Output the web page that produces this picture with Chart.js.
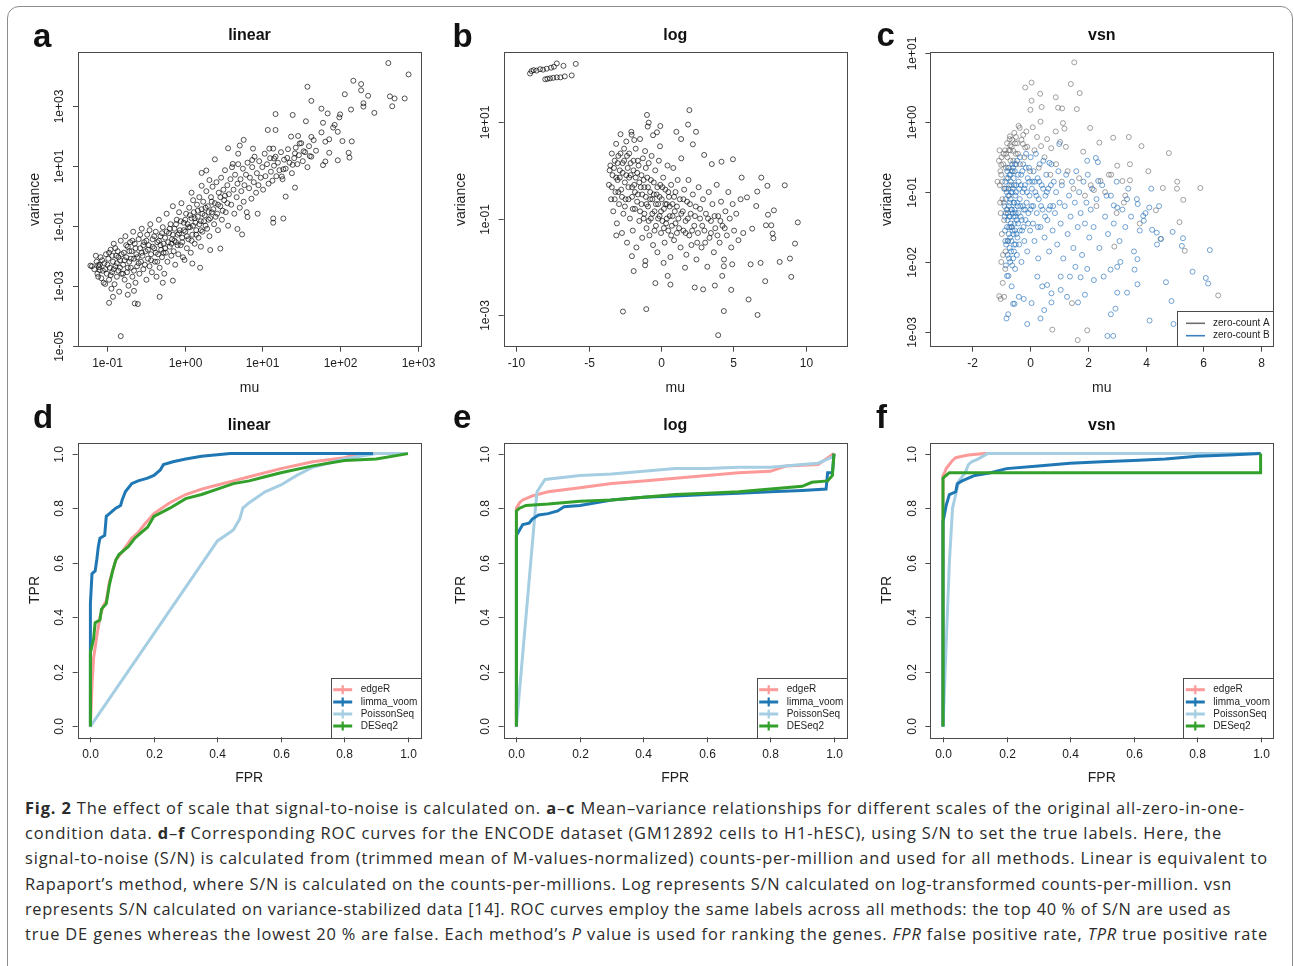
<!DOCTYPE html>
<html lang="en">
<head>
    <meta charset="UTF-8">
    <title>Fig. 2 – signal-to-noise scale</title>
    <script src="https://cdn.jsdelivr.net/npm/chart.js"></script>
    <style>
        body {
            margin: 0;
            background: #fff;
            overflow: hidden;
        }

        #figure {
            position: relative;
            width: 1294px;
            height: 966px;
        }

        .frame {
            position: absolute;
            left: 7px;
            top: 6px;
            width: 1284px;
            height: 980px;
            border: 1.3px solid #8c8c8c;
            border-radius: 12px;
        }

        .panel {
            position: absolute;
        }

        .caption {
            position: absolute;
            left: 25px;
            top: 795px;
            font-family: 'Open Sans', 'Noto Sans', sans-serif;
            font-size: 16.4px;
            line-height: 25.2px;
            color: #2b2b2b;
        }

        .cap-line {
            white-space: nowrap;
        }
    </style>
</head>
<body>
<div id="figure">
    <div class="frame"></div>

    <div class="panel" style="left:0;top:0;width:445px;height:395px"><canvas id="chartA"></canvas></div>
    <div class="panel" style="left:430px;top:0;width:430px;height:395px"><canvas id="chartB"></canvas></div>
    <div class="panel" style="left:860px;top:0;width:434px;height:395px"><canvas id="chartC"></canvas></div>
    <div class="panel" style="left:0;top:395px;width:430px;height:395px"><canvas id="chartD"></canvas></div>
    <div class="panel" style="left:430px;top:395px;width:430px;height:395px"><canvas id="chartE"></canvas></div>
    <div class="panel" style="left:860px;top:395px;width:434px;height:395px"><canvas id="chartF"></canvas></div>

    <div class="caption">
        <div class="cap-line" data-w="1220"><span><b>Fig. 2</b> The effect of scale that signal-to-noise is calculated on. <b>a</b>–<b>c</b> Mean–variance relationships for different scales of the original all-zero-in-one-</span></div>
        <div class="cap-line" data-w="1197"><span>condition data. <b>d</b>–<b>f</b> Corresponding ROC curves for the ENCODE dataset (GM12892 cells to H1-hESC), using S/N to set the true labels. Here, the</span></div>
        <div class="cap-line" data-w="1243"><span>signal-to-noise (S/N) is calculated from (trimmed mean of M-values-normalized) counts-per-million and used for all methods. Linear is equivalent to</span></div>
        <div class="cap-line" data-w="1207"><span>Rapaport’s method, where S/N is calculated on the counts-per-millions. Log represents S/N calculated on log-transformed counts-per-million. vsn</span></div>
        <div class="cap-line" data-w="1206"><span>represents S/N calculated on variance-stabilized data [14]. ROC curves employ the same labels across all methods: the top 40 % of S/N are used as</span></div>
        <div class="cap-line" data-w="1243"><span>true DE genes whereas the lowest 20 % are false. Each method’s <i>P</i> value is used for ranking the genes. <i>FPR</i> false positive rate, <i>TPR</i> true positive rate</span></div>
    </div>
</div>

<script>
    // ---- data: panel a (linear), [log10 mu, log10 variance] ----
    const linearMuVar = [
        [2.62,4.42],[2.88,4.04],[2.17,3.83],[2.27,3.72],[1.58,3.63],[2.06,3.38],[2.27,3.51],[2.36,3.33],[2.64,3.31],[2.70,3.24],
        [2.83,3.24],[2.67,2.98],[1.63,3.16],[2.30,3.08],[2.30,2.97],[2.44,2.76],[1.76,2.90],[1.84,2.74],[2.14,2.87],[2.00,2.71],
        [1.99,2.61],[1.17,2.72],[1.39,2.69],[1.56,2.48],[1.78,2.43],[1.07,2.19],[1.17,2.19],[1.91,2.27],[1.93,2.36],[1.97,2.13],
        [1.76,2.11],[1.63,1.96],[1.86,1.88],[2.03,1.82],[2.15,1.81],[1.81,1.80],[1.46,1.99],[1.48,1.74],[1.37,1.97],[1.86,1.43],
        [2.11,1.43],[2.12,1.27],[1.81,1.14],[1.78,1.02],[1.97,1.18],[1.53,1.48],[1.61,1.32],[1.42,1.41],[1.32,1.26],[1.39,1.03],
        [1.42,0.27],[1.27,0.88],[1.25,0.64],[1.30,-0.03],[1.27,-0.76],[1.14,-0.76],[1.14,-0.90],[0.94,-0.60],[0.81,-0.71],[0.74,-1.29],
        [0.46,-1.76],[0.33,-1.81],[0.20,-2.40],[0.10,-2.26],[0.00,-2.14],[0.21,-1.70],[0.68,-1.11],[1.14,1.57],[1.15,1.24],[1.09,1.57],
        [0.88,1.57],[0.76,1.86],[0.71,1.67],[0.56,1.58],[0.69,1.40],[0.39,1.21],[0.62,1.06],[0.87,1.19],[0.22,0.76],[0.28,0.84],
        [0.32,0.52],[0.09,0.10],[0.22,0.33],[-0.32,-3.37],[-0.15,-2.83],[-0.28,-2.90],[-0.64,-3.59],[-0.60,-3.61],[-0.73,-3.30],[-0.65,-3.17],
        [-0.97,-3.57],[-0.92,-3.37],[-0.82,-4.68],[-1.21,-2.33],[-1.11,-2.31],[-1.02,-2.94],[-1.09,-2.48],
        [-1.19,-2.35],[-1.16,-2.45],[-1.13,-2.2],[-1.12,-2.6],[-1.1,-2.38],[-1.08,-2.05],[-1.07,-2.75],[-1.05,-2.5],[-1.04,-2.9],[-1.03,-2.25],
        [-1.01,-1.95],[-1.0,-2.6],[-0.98,-2.1],[-0.97,-2.8],[-0.96,-2.4],[-0.95,-1.8],[-0.94,-3.1],[-0.93,-2.55],[-0.92,-2.2],[-0.91,-1.6],
        [-0.9,-2.95],[-0.89,-2.35],[-0.88,-2.0],[-0.87,-2.7],[-0.86,-1.85],[-0.85,-2.5],[-0.84,-3.2],[-0.83,-2.15],[-0.82,-1.5],[-0.81,-2.6],
        [-0.79,-2.3],[-0.78,-1.9],[-0.77,-2.8],[-0.76,-1.35],[-0.75,-2.05],[-0.74,-2.55],[-0.73,-1.7],[-0.72,-3.0],[-0.71,-2.2],[-0.7,-1.55],
        [-0.69,-2.4],[-0.68,-1.85],[-0.67,-2.7],[-0.66,-1.2],[-0.65,-2.1],[-0.64,-1.6],[-0.63,-2.9],[-0.62,-1.95],[-0.61,-2.35],[-0.59,-1.45],
        [-0.58,-2.6],[-0.57,-1.75],[-0.56,-2.2],[-0.55,-1.1],[-0.54,-2.0],[-0.53,-2.45],[-0.52,-1.55],[-0.5,-1.85],[-0.49,-2.8],[-0.48,-1.3],
        [-0.47,-2.1],[-0.46,-1.65],[-0.45,-2.35],[-0.44,-0.95],[-0.43,-1.95],[-0.42,-2.55],[-0.41,-1.45],[-0.39,-1.75],[-0.38,-2.2],[-0.37,-1.2],
        [-0.36,-2.7],[-0.35,-1.55],[-0.34,-1.95],[-0.33,-0.8],[-0.32,-2.4],[-0.31,-1.35],[-0.3,-1.8],[-0.29,-2.05],[-0.28,-1.05],[-0.27,-1.6],
        [-0.26,-2.6],[-0.25,-1.4],[-0.24,-1.9],[-0.23,-0.6],[-0.22,-2.2],[-0.2,-1.25],[-0.19,-1.7],[-0.18,-0.95],[-0.17,-2.0],[-0.16,-1.45],
        [-0.15,-0.35],[-0.14,-1.85],[-0.13,-1.1],[-0.12,-2.3],[-0.11,-1.55],[-0.1,-0.8],[-0.09,-1.3],[-0.08,-1.95],[-0.07,-0.55],[-0.06,-1.15],
        [-0.05,-1.65],[-0.04,-0.25],[-0.03,-1.4],[-0.02,-2.05],[-0.01,-0.9],[0.01,-1.2],[0.02,-0.6],[0.03,-1.75],[0.04,-0.95],[0.05,-1.45],
        [0.06,-0.4],[0.07,-1.05],[0.08,-1.9],[0.09,-0.75],[0.1,-1.3],[0.11,-0.15],[0.12,-0.55],[0.13,-1.6],[0.14,-0.9],[0.15,-1.15],
        [0.16,-0.3],[0.17,-0.7],[0.18,-1.4],[0.19,-0.05],[0.21,-0.85],[0.22,-0.45],[0.23,-1.2],[0.24,-0.2],[0.26,-0.65],[0.27,-1.0],
        [0.28,0.15],[0.3,-0.35],[0.31,-0.8],[0.32,-1.35],[0.34,-0.05],[0.35,-0.55],[0.36,0.3],[0.38,-0.95],[0.39,-0.25],[0.41,0.45],
        [0.42,-0.6],[0.43,-1.15],[0.44,0.1],[0.46,-0.35],[0.47,0.6],[0.48,-0.8],[0.5,0.2],[0.51,-0.15],[0.52,0.85],[0.53,-0.55],
        [0.55,0.35],[0.56,-1.0],[0.57,0.05],[0.59,0.55],[0.6,-0.3],[0.61,0.95],[0.63,0.2],[0.64,-0.6],[0.65,0.7],[0.67,-0.05],
        [0.68,0.4],[0.69,1.05],[0.71,-0.4],[0.72,0.55],[0.73,0.15],[0.75,0.9],[0.76,-0.2],[0.77,0.35],[0.79,0.7],[0.8,-0.55],
        [0.81,1.1],[0.83,0.25],[0.84,0.6],[0.86,-0.1],[0.87,0.95],[0.89,0.45],[0.9,1.3],[0.92,0.1],[0.93,0.75],[0.95,0.35],
        [0.96,1.15],[0.98,0.6],[1.0,0.95],[1.01,0.2],[1.03,1.4],[1.04,0.65],[1.06,1.05],[1.08,0.4],[1.1,1.25],[1.11,0.8],
        [1.13,0.5],[1.15,1.0],[1.17,1.3],[1.18,0.65],[1.2,1.1],[1.22,0.85],[1.24,1.45],[1.26,0.55],[1.28,1.2],[1.3,0.9],
        [1.33,1.55],[1.35,1.1],[1.38,0.75],[1.41,1.25],[1.43,1.6],[1.45,1.05],[1.47,1.35],[1.5,1.75],[1.52,1.15],[1.55,1.45],
        [1.58,0.95],[1.6,1.65],[1.63,1.3],[1.66,1.85],[1.69,1.5],
        [-1.14,-2.0],[-1.11,-2.7],[-1.09,-2.3],[-1.06,-2.15],[-1.02,-2.45],[-0.99,-2.3],[-0.97,-1.9],[-0.95,-2.65],[-0.93,-2.0],[-0.91,-2.45],
        [-0.89,-1.75],[-0.87,-2.25],[-0.85,-2.05],[-0.83,-2.4],[-0.81,-1.95],[-0.79,-2.6],[-0.77,-2.15],[-0.75,-1.65],[-0.73,-2.4],[-0.71,-1.85],
        [-0.69,-2.1],[-0.67,-1.5],[-0.65,-2.5],[-0.63,-1.75],[-0.61,-2.05],[-0.59,-2.25],[-0.57,-1.3],[-0.55,-1.9],[-0.53,-1.65],[-0.51,-2.3],
        [-0.49,-1.5],[-0.47,-1.8],[-0.45,-1.15],[-0.43,-2.15],[-0.41,-1.7],[-0.39,-1.35],[-0.37,-1.9],[-0.35,-2.2],[-0.33,-1.5],[-0.31,-1.65],
        [-0.29,-1.25],[-0.27,-1.9],[-0.25,-1.75],[-0.23,-1.2],[-0.21,-1.55],[-0.19,-1.1],[-0.17,-1.6],[-0.15,-1.3],[-0.13,-1.5],[-0.11,-0.95],
        [-0.09,-1.65],[-0.07,-1.25],[-0.05,-0.85],[-0.03,-1.55],[-0.01,-1.15],[0.01,-0.8],[0.03,-1.35],[0.05,-1.05],[0.07,-0.65],[0.09,-1.5],
        [0.11,-1.0],[0.13,-0.75],[0.15,-1.3],[0.17,-0.5],[0.19,-0.95],[0.21,-1.15],[0.23,-0.6],[0.25,-0.85],[0.27,-0.4],[0.29,-1.1],
        [0.31,-0.55],[0.33,-0.75],[0.35,-0.2],[0.37,-0.45],[0.4,-0.7],[0.43,-0.3],[0.46,-0.05],[0.49,-0.5],[0.52,0.0],[0.55,-0.25]
    ];

    // ---- panel b (log), [mu, log10 variance] ----
    const logMuVar = [
        [-9.05,2.01],[-8.95,2.06],[-8.8,2.08],[-8.6,2.07],[-8.36,2.10],[-8.15,2.09],[-7.9,2.11],[-7.6,2.13],[-7.4,2.15],[-7.2,2.22],
        [-6.74,2.17],[-5.89,2.21],[-8.0,1.89],[-7.85,1.90],[-7.67,1.91],[-7.45,1.92],[-7.2,1.93],[-6.95,1.93],[-6.65,1.95],[-6.17,1.97],
        [-0.97,1.15],[-0.85,0.99],[-0.92,0.91],[-0.05,0.92],[-0.55,0.73],[-0.28,0.79],[1.96,1.25],[1.87,0.95],[2.42,0.80],[2.2,0.54],
        [1.06,0.80],[1.39,0.65],[-2.03,0.74],[-1.85,0.63],[-0.07,0.50],[2.98,0.32],[3.51,0.13],[4.18,0.18],[4.97,0.23],[5.57,-0.15],
        [6.93,-0.15],[8.55,-0.31],[7.35,-0.32],[6.65,-0.44],[5.94,-0.56],[6.58,-0.74],[7.8,-0.83],[7.39,-0.92],[9.45,-1.08],[9.26,-1.52],
        [8.91,-1.83],[9.0,-2.21],[8.2,-1.90],[7.2,-2.30],[6.88,-1.92],[6.19,-1.95],[6.05,-2.68],[6.67,-3.0],[4.34,-2.92],[3.95,-3.42],
        [4.85,-2.48],[2.91,-2.47],[2.33,-2.43],[3.72,-2.39],[4.23,-2.19],[4.92,-1.95],[4.34,-1.99],[-1.02,-2.88],[-2.63,-2.93],[-0.39,-2.34],
        [0.65,-2.37],[0.46,-2.19],[-3.09,-1.35],[-2.01,-1.78],[-1.89,-2.09],[-1.1,-1.97],[-1.08,-1.88],[0.18,-1.92],[1.66,-2.02],[7.62,-1.14],
        [7.71,-1.31],[7.76,-1.41],[7.25,-1.14],[6.3,-1.21],[5.68,-1.30],
        [-3.6,-0.3],[-3.5,0.1],[-3.45,-0.6],[-3.4,0.35],[-3.35,-0.1],[-3.3,-0.85],[-3.2,0.2],[-3.15,-0.45],[-3.1,0.55],[-3.05,-1.1],
        [-3.0,-0.2],[-2.95,0.3],[-2.9,-0.7],[-2.85,0.0],[-2.8,0.75],[-2.75,-0.4],[-2.7,-1.3],[-2.65,0.15],[-2.6,-0.9],[-2.55,0.45],
        [-2.5,-0.25],[-2.45,-0.6],[-2.4,0.6],[-2.35,-1.5],[-2.3,0.05],[-2.25,-0.35],[-2.2,0.35],[-2.15,-1.0],[-2.1,-0.1],[-2.05,0.8],
        [-2.0,-0.55],[-1.95,-1.25],[-1.9,0.2],[-1.85,-0.3],[-1.8,-0.8],[-1.75,0.45],[-1.7,-1.6],[-1.65,-0.05],[-1.6,-0.5],[-1.55,0.1],
        [-1.5,-1.05],[-1.45,0.65],[-1.4,-0.35],[-1.35,-0.7],[-1.3,-1.4],[-1.25,0.25],[-1.2,-0.2],[-1.15,-0.9],[-1.1,0.4],[-1.05,-0.55],
        [-1.0,-1.2],[-0.95,-0.15],[-0.9,-0.75],[-0.85,0.15],[-0.8,-1.35],[-0.75,-0.45],[-0.7,-1.0],[-0.65,0.3],[-0.6,-0.6],[-0.55,-1.55],
        [-0.5,-0.25],[-0.45,-0.85],[-0.4,0.0],[-0.35,-1.15],[-0.3,-0.5],[-0.25,-1.7],[-0.2,-0.7],[-0.15,0.2],[-0.1,-0.95],[-0.05,-0.3],
        [0.0,-1.3],[0.05,-0.6],[0.1,-1.05],[0.15,-0.15],[0.2,-0.8],[0.25,-1.5],[0.3,-0.4],[0.35,-1.1],[0.4,-0.7],[0.45,0.1],
        [0.5,-1.25],[0.55,-0.55],[0.6,-0.95],[0.65,-1.8],[0.7,-0.3],[0.75,-1.15],[0.8,-0.7],[0.85,0.05],[0.9,-1.45],[0.95,-0.85],
        [1.0,-0.45],[1.1,-1.3],[1.15,-0.2],[1.2,-1.0],[1.3,-0.6],[1.35,-1.6],[1.4,0.25],[1.5,-0.85],[1.55,-1.25],[1.6,-0.4],
        [1.7,-1.05],[1.75,-1.75],[1.8,-0.65],[1.9,-0.2],[1.95,-1.35],[2.05,-0.9],[2.1,-1.55],[2.2,-0.5],[2.3,-1.15],[2.4,-0.75],
        [2.45,-1.85],[2.55,-1.3],[2.6,-0.35],[2.7,-1.0],[2.8,-1.6],[2.9,-0.6],[3.0,-1.25],[3.1,-0.9],[3.2,-2.0],[3.3,-0.45],
        [3.35,-1.4],[3.45,-1.05],[3.55,-0.7],[3.65,-1.7],[3.75,-1.2],[3.85,-0.3],[3.95,-0.95],[4.05,-1.5],[4.15,-0.65],[4.25,-1.15],
        [4.35,-1.85],[4.45,-0.85],[4.55,-1.35],[4.65,-0.45],[4.75,-1.0],[4.85,-1.6],[4.95,-0.7],[5.05,-1.25],[5.2,-0.9],[5.35,-1.45],
        [5.5,-0.6],
        [-3.55,0.0],[-3.4,-0.35],[-3.25,0.05],[-3.2,-0.6],[-3.1,-0.15],[-3.0,0.15],[-2.95,-0.45],[-2.85,-0.15],[-2.8,0.35],[-2.7,-0.55],
        [-2.65,-0.05],[-2.55,0.2],[-2.5,-0.75],[-2.4,-0.1],[-2.35,0.3],[-2.25,-0.6],[-2.2,-0.15],[-2.1,0.15],[-2.0,-0.35],[-1.95,-0.8],
        [-1.9,0.0],[-1.8,-0.45],[-1.75,-0.15],[-1.65,-0.65],[-1.6,0.2],[-1.5,-0.25],[-1.45,-0.85],[-1.35,-0.1],[-1.3,-0.5],[-1.2,-1.0],
        [-1.15,-0.35],[-1.05,0.05],[-1.0,-0.7],[-0.9,-0.35],[-0.85,-1.05],[-0.75,-0.6],[-0.7,-0.2],[-0.6,-0.9],[-0.5,-0.5],[-0.45,-1.25],
        [-0.35,-0.7],[-0.25,-0.35],[-0.2,-1.0],[-0.1,-0.55],[0.0,-0.85],[0.1,-0.35],[0.2,-1.2],[0.3,-0.7],[0.4,-1.0],[0.5,-0.45],
        [0.6,-0.75],[0.7,-1.35],[0.8,-0.95],[0.9,-0.55],[1.0,-1.1],[1.1,-0.75],[1.25,-1.2],[1.4,-0.9],[1.55,-0.6],[1.7,-1.3],
        [1.85,-1.0],[2.0,-0.7],[2.15,-1.25],[2.35,-0.95],[2.5,-1.5],[2.7,-0.8],[2.85,-1.15],[3.05,-1.5],[3.25,-1.0],[3.45,-1.3],
        [3.7,-0.95],[3.9,-1.35],[4.1,-1.05],[4.4,-1.2]
    ];

    // ---- panel c (vsn), [mu, log10 variance], split by zero-count group ----
    const vsnZeroA = [
        [1.53,0.86],[1.41,0.55],[1.72,0.42],[-0.17,0.50],[0.05,0.57],[0.35,0.41],[0.89,0.36],[0.05,0.31],[0.01,0.18],[0.40,0.22],
        [0.97,0.21],[1.11,0.20],[1.62,0.19],[0.36,0.01],[0.09,-0.07],[1.14,-0.01],[1.19,-0.09],[2.08,-0.08],[-0.36,-0.08],[-0.13,-0.13],
        [-0.24,-0.18],[-0.49,-0.21],[-0.71,-0.24],[0.24,-0.21],[0.59,-0.24],[0.89,-0.13],[1.04,-0.28],[1.24,-0.35],[2.40,-0.29],[2.88,-0.22],
        [3.42,-0.21],[3.86,-0.34],[4.81,-0.44],[1.84,-0.42],[0.38,-0.34],[0.73,-0.37],[-0.25,-0.31],[-0.17,-0.36],[-0.69,-0.33],[-0.58,-0.41],
        [-0.83,-0.45],[-1.0,-0.61],[-1.03,-0.70],[-1.13,-0.85],[3.02,-0.62],[3.46,-0.60],[4.10,-0.70],[3.20,-0.84],[3.46,-0.83],[2.81,-0.75],
        [5.10,-0.85],[5.09,-0.95],[4.60,-0.94],[5.90,-0.94],[5.31,-1.11],[4.36,-1.26],[5.18,-1.43],[5.36,-1.84],[6.52,-2.48],[-1.07,-2.49],
        [-1.02,-2.53],[0.77,-2.97],[1.98,-2.98],[1.65,-3.12],[1.45,-2.59],[4.52,-1.67],[2.92,-1.78],[3.25,-1.15],[2.44,-0.84],[2.21,-0.97],
        [2.73,-0.75],
        [-1.08,-0.55],[-1.05,-0.9],[-1.02,-1.3],[-1.0,-0.75],[-0.98,-1.6],[-0.96,-1.1],[-0.94,-1.9],[-0.92,-0.45],[-0.9,-1.4],[-0.88,-0.95],
        [-0.86,-2.1],[-0.84,-0.65],[-0.82,-1.25],[-0.8,-0.3],[-0.78,-1.7],[-0.76,-0.8],[-0.74,-0.4],[-0.72,-1.05],[-0.7,-0.2],[-0.68,-0.55],
        [-0.66,-1.5],[-0.64,-0.35],[-0.6,-0.7],[-0.55,-0.15],[-0.5,-0.45],[-0.45,-0.3],[-0.4,-0.05],[-0.35,-0.6],[-0.3,-0.25],[-0.2,-0.5],
        [-0.1,-0.35],[0.0,-0.7],[0.15,-0.4],[0.3,-0.65],[0.5,-0.5],[0.7,-0.75],[0.9,-0.6],[1.1,-0.85],[1.3,-0.7],[1.5,-0.95],
        [1.7,-0.8],[1.9,-1.05],[2.1,-0.9],[2.3,-1.2],[2.6,-1.0],[3.0,-1.3],[3.3,-1.05],[3.8,-1.45],[-0.95,-2.3],[-1.0,-2.0],
        [-0.85,-1.85],[-0.9,-2.5],
        [-1.06,-0.4],[-1.04,-1.15],[-0.99,-0.5],[-0.97,-0.85],[-0.93,-0.6],[-0.91,-1.15],[-0.87,-0.4],[-0.83,-0.95],[-0.79,-0.5],[-0.77,-1.3],
        [-0.73,-0.65],[-0.69,-0.4],[-0.65,-0.9],[-0.62,-0.25],[-0.58,-0.55],[-0.52,-0.3],[-0.48,-0.6],[-0.42,-0.45]
    ];
    const vsnZeroB = [
        [0.67,-0.58],[1.01,-0.31],[1.98,-0.55],[2.28,-0.51],[2.35,-0.57],[2.36,-0.84],[2.65,-1.05],[2.90,-1.19],[3.02,-1.22],[3.36,-1.10],
        [3.73,-1.17],[4.13,-1.22],[4.47,-1.20],[3.92,-1.34],[3.94,-1.41],[4.23,-1.54],[4.39,-1.58],[4.94,-1.57],[4.54,-1.67],[5.30,-1.66],
        [5.26,-1.77],[6.23,-1.83],[5.63,-2.14],[6.09,-2.23],[6.17,-2.31],[4.90,-2.56],[4.71,-2.29],[4.14,-2.84],[4.97,-2.89],[3.02,-2.44],
        [2.96,-2.67],[2.80,-2.75],[2.68,-3.06],[2.88,-3.06],[3.72,-1.96],[3.72,-2.32],[3.62,-2.11],[3.36,-2.44],[3.02,-2.07],[3.13,-2.00],
        [2.79,-2.11],[2.55,-2.21],[2.21,-2.26],[1.98,-2.10],[1.75,-2.22],[1.57,-2.07],[1.38,-2.21],[1.06,-2.21],[1.06,-2.40],[1.28,-2.50],
        [1.66,-2.58],[1.90,-2.47],[0.74,-2.45],[0.74,-2.58],[0.42,-2.35],[0.59,-2.33],[0.25,-2.21],[0.05,-2.59],[0.49,-2.69],[0.36,-2.81],
        [-0.10,-2.89],[-0.76,-2.75],[-0.82,-2.81],[-0.59,-2.60],[-0.54,-2.60],[-0.39,-2.50],[-0.22,-2.53],
        [-0.9,-0.95],[-0.88,-1.35],[-0.86,-1.7],[-0.85,-1.1],[-0.84,-2.05],[-0.82,-0.8],[-0.8,-1.5],[-0.79,-1.25],[-0.78,-1.9],[-0.77,-0.65],
        [-0.76,-1.05],[-0.75,-2.2],[-0.74,-1.6],[-0.73,-1.35],[-0.72,-0.9],[-0.71,-1.8],[-0.7,-1.15],[-0.69,-2.0],[-0.68,-0.75],[-0.67,-1.45],
        [-0.66,-1.0],[-0.65,-1.7],[-0.64,-2.35],[-0.63,-1.25],[-0.62,-0.6],[-0.61,-1.55],[-0.6,-0.95],[-0.59,-1.95],[-0.58,-1.35],[-0.57,-0.8],
        [-0.56,-1.15],[-0.55,-1.75],[-0.54,-1.45],[-0.53,-0.7],[-0.52,-2.1],[-0.51,-1.05],[-0.5,-1.3],[-0.48,-0.9],[-0.47,-1.6],[-0.46,-1.9],
        [-0.45,-0.55],[-0.43,-1.2],[-0.42,-1.45],[-0.4,-0.85],[-0.38,-1.75],[-0.36,-1.1],[-0.35,-0.5],[-0.33,-1.35],[-0.31,-0.75],[-0.3,-2.0],
        [-0.28,-1.55],[-0.26,-1.0],[-0.24,-0.6],[-0.22,-1.25],[-0.2,-1.7],[-0.18,-0.9],[-0.16,-1.4],[-0.14,-0.45],[-0.12,-1.15],[-0.1,-1.85],
        [-0.08,-0.8],[-0.06,-1.3],[-0.04,-0.65],[-0.02,-1.05],[0.0,-1.55],[0.02,-0.5],[0.05,-1.2],[0.08,-0.85],[0.1,-1.45],[0.12,-0.7],
        [0.15,-1.7],[0.18,-1.0],[0.2,-0.45],[0.23,-1.3],[0.26,-0.8],[0.28,-1.95],[0.3,-1.1],[0.33,-0.6],[0.36,-1.5],[0.4,-0.9],
        [0.43,-1.25],[0.46,-0.55],[0.5,-1.65],[0.53,-1.05],[0.56,-0.75],[0.6,-1.4],[0.63,-0.95],[0.66,-1.85],[0.7,-1.2],[0.74,-0.6],
        [0.78,-1.55],[0.82,-0.85],[0.86,-1.3],[0.9,-1.0],[0.94,-1.75],[0.98,-0.7],[1.02,-1.15],[1.06,-1.45],[1.1,-0.9],[1.15,-1.95],
        [1.2,-1.2],[1.25,-0.75],[1.3,-1.6],[1.35,-1.05],[1.4,-1.35],[1.45,-0.85],[1.5,-1.8],[1.55,-1.15],[1.6,-0.7],[1.65,-1.5],
        [1.7,-1.0],[1.75,-1.3],[1.8,-1.9],[1.85,-0.85],[1.9,-1.45],[1.95,-1.15],[2.0,-0.75],[2.05,-1.65],[2.1,-1.25],[2.15,-0.95],
        [2.2,-1.5],[2.3,-1.1],[2.4,-1.8],[2.5,-0.9],[2.6,-1.35],[2.7,-1.6],[2.8,-1.05],[2.9,-1.45],[3.0,-0.85],[3.1,-1.7],
        [3.2,-1.25],[3.3,-1.5],[3.4,-0.95],[3.5,-1.35],[3.6,-1.85],[3.7,-1.1],[3.8,-1.55],[4.0,-1.3],[4.2,-0.95],[4.4,-1.75],
        [-0.89,-1.2],[-0.87,-1.55],[-0.86,-0.85],[-0.84,-1.3],[-0.83,-1.75],[-0.81,-1.0],[-0.8,-2.2],[-0.79,-0.7],[-0.78,-1.4],[-0.76,-1.7],
        [-0.75,-0.95],[-0.74,-1.2],[-0.73,-1.95],[-0.72,-1.5],[-0.71,-0.75],[-0.7,-1.35],[-0.69,-1.65],[-0.68,-1.1],[-0.67,-0.85],[-0.66,-1.85],
        [-0.65,-1.25],[-0.64,-0.7],[-0.63,-1.5],[-0.62,-2.05],[-0.61,-1.0],[-0.6,-1.3],[-0.59,-0.65],[-0.58,-1.6],[-0.57,-1.15],[-0.56,-1.85],
        [-0.55,-0.9],[-0.54,-1.25],[-0.53,-1.55],[-0.52,-0.6],[-0.51,-1.35],[-0.5,-1.75],[-0.49,-1.0],[-0.47,-1.4],[-0.45,-1.15],[-0.44,-1.65],
        [-0.42,-0.75],[-0.4,-1.3],[-0.38,-0.95],[-0.36,-1.55],[-0.34,-1.2],[-0.32,-0.9],[-0.29,-1.4],[-0.27,-0.7],[-0.25,-1.2],[-0.23,-1.5],
        [-0.2,-0.95],[-0.17,-1.25],[-0.15,-0.65],[-0.11,-1.0],[-0.07,-1.45],[-0.03,-0.85],[0.01,-1.25],[0.06,-0.95],[0.11,-1.2],[0.16,-0.85],
        [0.22,-1.05],[0.27,-1.5],[0.32,-0.85],[0.38,-1.2],[0.45,-0.95],[0.52,-1.35],[0.58,-1.0],[0.65,-1.25],[0.72,-0.9],[0.8,-1.2]
    ];

    // ---- ROC curves, [FPR, TPR] ----
    const linearEdgeR = [[0,0],[0.005,0.15],[0.01,0.25],[0.02,0.33],[0.03,0.4],[0.04,0.44],[0.05,0.46],[0.06,0.53],[0.07,0.57],[0.08,0.61],[0.1,0.64],[0.13,0.69],[0.15,0.71],[0.17,0.74],[0.2,0.78],[0.25,0.82],[0.3,0.85],[0.35,0.87],[0.4,0.885],[0.45,0.9],[0.5,0.915],[0.6,0.945],[0.7,0.97],[0.8,0.985],[0.85,1.0],[1.0,1.0]];
    const linearLimma = [[0,0],[0,0.45],[0.005,0.56],[0.015,0.57],[0.02,0.61],[0.025,0.66],[0.03,0.69],[0.045,0.7],[0.05,0.77],[0.06,0.78],[0.07,0.79],[0.08,0.8],[0.095,0.81],[0.1,0.83],[0.11,0.86],[0.13,0.89],[0.15,0.9],[0.18,0.91],[0.2,0.92],[0.22,0.94],[0.23,0.96],[0.26,0.97],[0.3,0.98],[0.35,0.99],[0.44,1.0],[0.89,1.0]];
    const linearPoisson = [[0,0],[0.4,0.68],[0.45,0.72],[0.47,0.76],[0.48,0.8],[0.5,0.82],[0.55,0.86],[0.6,0.885],[0.65,0.92],[0.7,0.95],[0.8,0.98],[0.9,1.0],[1.0,1.0]];
    const linearDESeq2 = [[0,0],[0,0.27],[0.01,0.32],[0.015,0.38],[0.03,0.39],[0.035,0.43],[0.05,0.45],[0.06,0.52],[0.07,0.57],[0.08,0.61],[0.09,0.63],[0.12,0.66],[0.14,0.69],[0.16,0.71],[0.18,0.73],[0.2,0.77],[0.25,0.8],[0.3,0.835],[0.35,0.85],[0.4,0.87],[0.45,0.89],[0.5,0.9],[0.55,0.915],[0.6,0.93],[0.7,0.955],[0.8,0.975],[0.9,0.98],[1.0,1.0]];

    const logEdgeR = [[0,0],[0,0.8],[0.01,0.82],[0.02,0.83],[0.05,0.845],[0.1,0.86],[0.2,0.875],[0.3,0.89],[0.4,0.9],[0.5,0.91],[0.6,0.92],[0.7,0.93],[0.8,0.935],[0.85,0.955],[0.95,0.96],[1.0,1.0]];
    const logLimma = [[0,0],[0,0.7],[0.01,0.72],[0.02,0.74],[0.04,0.745],[0.05,0.76],[0.07,0.775],[0.1,0.78],[0.13,0.79],[0.15,0.805],[0.2,0.81],[0.3,0.83],[0.4,0.84],[0.5,0.845],[0.6,0.85],[0.7,0.855],[0.8,0.86],[0.9,0.865],[0.975,0.87],[0.98,0.93],[0.995,0.93],[1.0,1.0]];
    const logPoisson = [[0,0],[0.06,0.8],[0.065,0.86],[0.09,0.905],[0.2,0.92],[0.3,0.925],[0.4,0.935],[0.5,0.945],[0.6,0.945],[0.7,0.95],[0.8,0.95],[0.9,0.96],[0.95,0.965],[1.0,0.99]];
    const logDESeq2 = [[0,0],[0,0.79],[0.01,0.8],[0.03,0.81],[0.1,0.815],[0.2,0.825],[0.3,0.83],[0.4,0.84],[0.5,0.85],[0.6,0.855],[0.7,0.86],[0.8,0.87],[0.9,0.88],[0.93,0.895],[0.98,0.9],[0.995,0.92],[1.0,1.0]];

    const vsnEdgeR = [[0,0],[0,0.92],[0.005,0.93],[0.01,0.945],[0.02,0.96],[0.03,0.975],[0.04,0.985],[0.06,0.99],[0.08,0.995],[0.13,1.0],[1.0,1.0]];
    const vsnLimma = [[0,0],[0,0.75],[0.005,0.78],[0.01,0.81],[0.02,0.85],[0.04,0.86],[0.045,0.89],[0.06,0.9],[0.08,0.91],[0.1,0.92],[0.15,0.93],[0.2,0.945],[0.3,0.955],[0.4,0.965],[0.5,0.97],[0.6,0.975],[0.7,0.98],[0.8,0.99],[0.9,0.995],[1.0,1.0]];
    const vsnPoisson = [[0,0],[0.02,0.6],[0.03,0.8],[0.04,0.85],[0.05,0.9],[0.07,0.93],[0.08,0.96],[0.09,0.97],[0.11,0.98],[0.14,1.0],[1.0,1.0]];
    const vsnDESeq2 = [[0,0],[0,0.91],[0.01,0.92],[0.02,0.93],[0.5,0.93],[1.0,0.93],[1.0,1.0]];

    // ---- tick values / labels ----
    const logDecadeTicks = [1e-5, 1e-3, 1e-1, 1e1, 1e3];
    const logDecadeLabels = ['1e-05', '1e-03', '1e-01', '1e+01', '1e+03'];
    const muLogTicks = [0.1, 1, 10, 100, 1000];
    const muLogLabels = ['1e-01', '1e+00', '1e+01', '1e+02', '1e+03'];
    const bVarTicks = [1e-3, 1e-1, 1e1];
    const bVarLabels = ['1e-03', '1e-01', '1e+01'];
    const bMuTicks = [-10, -5, 0, 5, 10];
    const cVarTicks = [1e-3, 1e-2, 1e-1, 1, 10];
    const cVarLabels = ['1e-03', '1e-02', '1e-01', '1e+00', '1e+01'];
    const cMuTicks = [-2, 0, 2, 4, 6, 8];
    const rocTicks = [0, 0.2, 0.4, 0.6, 0.8, 1.0];
    const rocLabels = ['0.0', '0.2', '0.4', '0.6', '0.8', '1.0'];

    const methods = ['edgeR', 'limma_voom', 'PoissonSeq', 'DESeq2'];
    const methodColors = ['#FB9A99', '#1F78B4', '#A6CEE3', '#33A02C'];

    const FONT = '"Liberation Sans", Arial, Helvetica, sans-serif';

    // R-like box, ticks, labels and legend drawn on top of the chart area
    function rFrame(cfg) {
        return {
            id: 'rFrame',
            afterDraw(chart) {
                const { ctx, chartArea: a } = chart;
                const xs = chart.scales.x, ys = chart.scales.y;
                ctx.save();
                ctx.strokeStyle = '#4a4a4a';
                ctx.lineWidth = 1;
                ctx.strokeRect(Math.round(a.left) + 0.5, Math.round(a.top) + 0.5,
                    Math.round(a.right - a.left), Math.round(a.bottom - a.top));

                ctx.fillStyle = '#1e1e1e';
                ctx.font = '12px ' + FONT;
                ctx.textAlign = 'center';
                ctx.textBaseline = 'middle';
                cfg.xTicks.forEach((v, i) => {
                    const px = Math.round(xs.getPixelForValue(v)) + 0.5;
                    ctx.beginPath();
                    ctx.moveTo(px, a.bottom);
                    ctx.lineTo(px, a.bottom + 5);
                    ctx.stroke();
                    ctx.fillText(cfg.xLabels[i], px, a.bottom + 17);
                });
                cfg.yTicks.forEach((v, i) => {
                    const py = Math.round(ys.getPixelForValue(v)) + 0.5;
                    ctx.beginPath();
                    ctx.moveTo(a.left - 5, py);
                    ctx.lineTo(a.left, py);
                    ctx.stroke();
                    ctx.save();
                    ctx.translate(a.left - 18, py);
                    ctx.rotate(-Math.PI / 2);
                    ctx.fillText(cfg.yLabels[i], 0, 0);
                    ctx.restore();
                });

                // axis titles
                ctx.font = '14px ' + FONT;
                ctx.fillText(cfg.xTitle, (a.left + a.right) / 2, a.bottom + 41);
                ctx.save();
                ctx.translate(a.left - 43, (a.top + a.bottom) / 2);
                ctx.rotate(-Math.PI / 2);
                ctx.fillText(cfg.yTitle, 0, 0);
                ctx.restore();

                // panel title and letter
                ctx.fillStyle = '#111';
                ctx.font = 'bold 16px ' + FONT;
                ctx.fillText(cfg.title, (a.left + a.right) / 2, a.top - 17);
                ctx.font = 'bold 33px ' + FONT;
                ctx.textAlign = 'left';
                ctx.textBaseline = 'alphabetic';
                ctx.fillText(cfg.letter, cfg.letterPos[0], cfg.letterPos[1]);

                if (cfg.legend) {
                    const L = cfg.legend;
                    const left = a.right - L.width, top = a.bottom - L.height;
                    ctx.fillStyle = '#fff';
                    ctx.fillRect(left, top, L.width, L.height);
                    ctx.strokeStyle = '#4a4a4a';
                    ctx.lineWidth = 1;
                    ctx.strokeRect(Math.round(left) + 0.5, Math.round(top) + 0.5, Math.round(L.width), Math.round(L.height));
                    ctx.font = '10px ' + FONT;
                    ctx.textBaseline = 'middle';
                    L.labels.forEach((lab, i) => {
                        const yy = a.bottom - L.rowOffsets[i];
                        ctx.strokeStyle = L.colors[i];
                        ctx.lineWidth = L.lineWidth;
                        ctx.beginPath();
                        ctx.moveTo(left + L.lineFrom, yy);
                        ctx.lineTo(left + L.lineTo, yy);
                        ctx.stroke();
                        if (L.cross) {
                            const cx = left + (L.lineFrom + L.lineTo) / 2;
                            ctx.lineWidth = 2.2;
                            ctx.beginPath();
                            ctx.moveTo(cx, yy - 4.5);
                            ctx.lineTo(cx, yy + 4.5);
                            ctx.stroke();
                        }
                        ctx.fillStyle = '#1e1e1e';
                        ctx.fillText(lab, left + L.textX, yy);
                    });
                }
                ctx.restore();
            }
        };
    }

    const pointStyle = (color) => ({
        showLine: false,
        pointRadius: 2.5,
        pointBorderWidth: 0.9,
        pointBorderColor: color,
        pointBackgroundColor: 'rgba(0,0,0,0)',
        pointHoverRadius: 2.5
    });

    function makeChart(id, datasets, scales, padding, frameCfg) {
        return new Chart(document.getElementById(id), {
            type: 'scatter',
            data: { datasets: datasets },
            options: {
                responsive: true,
                maintainAspectRatio: false,
                animation: false,
                events: [],
                layout: { padding: padding },
                plugins: { legend: { display: false }, tooltip: { enabled: false } },
                scales: {
                    x: Object.assign({ display: false, bounds: 'data' }, scales.x),
                    y: Object.assign({ display: false, bounds: 'data' }, scales.y)
                }
            },
            plugins: [rFrame(frameCfg)]
        });
    }

    const toLogXY = (pts) => pts.map(([m, v]) => ({ x: 10 ** m, y: 10 ** v }));
    const toLinLogXY = (pts) => pts.map(([m, v]) => ({ x: m, y: 10 ** v }));
    const toXY = (pts) => pts.map(([x, y]) => ({ x, y }));

    const row1Pad = (l, r) => ({ left: l, right: r, top: 52.3, bottom: 48.3 });
    const row2Pad = (l, r) => ({ left: l, right: r, top: 47.7, bottom: 52.7 });
    const rocScales = {
        x: { type: 'linear', min: -0.04, max: 1.04 },
        y: { type: 'linear', min: -0.04, max: 1.04 }
    };
    const rocLegend = {
        width: 90, height: 59.6, rowOffsets: [47.6, 35.3, 23.3, 11.3],
        lineFrom: 2.5, lineTo: 21.5, textX: 30, lineWidth: 3, cross: true,
        labels: methods, colors: methodColors
    };

    // a: linear
    makeChart('chartA',
        [Object.assign({ data: toLogXY(linearMuVar) }, pointStyle('rgba(0,0,0,0.75)'))],
        { x: { type: 'logarithmic', min: 0.0427, max: 1096 }, y: { type: 'logarithmic', min: 9.3e-6, max: 6.0e4 } },
        row1Pad(78, 24),
        { letter: 'a', letterPos: [33, 46.5], title: 'linear', xTitle: 'mu', yTitle: 'variance',
          xTicks: muLogTicks, xLabels: muLogLabels, yTicks: logDecadeTicks, yLabels: logDecadeLabels });

    // b: log
    makeChart('chartB',
        [Object.assign({ data: toLinLogXY(logMuVar) }, pointStyle('rgba(0,0,0,0.75)'))],
        { x: { type: 'linear', min: -10.87, max: 12.83 }, y: { type: 'logarithmic', min: 2.19e-4, max: 282 } },
        row1Pad(73.7, 13.3),
        { letter: 'b', letterPos: [22.5, 46.5], title: 'log', xTitle: 'mu', yTitle: 'variance',
          xTicks: bMuTicks, xLabels: bMuTicks.map(String), yTicks: bVarTicks, yLabels: bVarLabels });

    // c: vsn
    makeChart('chartC',
        [
            Object.assign({ data: toLinLogXY(vsnZeroB) }, pointStyle('rgba(40,115,185,0.72)')),
            Object.assign({ data: toLinLogXY(vsnZeroA) }, pointStyle('rgba(95,95,95,0.65)'))
        ],
        { x: { type: 'linear', min: -3.46, max: 8.43 }, y: { type: 'logarithmic', min: 6.1e-4, max: 10.1 } },
        row1Pad(70.3, 20.7),
        { letter: 'c', letterPos: [16.5, 45.5], title: 'vsn', xTitle: 'mu', yTitle: 'variance',
          xTicks: cMuTicks, xLabels: cMuTicks.map(String), yTicks: cVarTicks, yLabels: cVarLabels,
          legend: { width: 96, height: 35.4, rowOffsets: [23.4, 11], lineFrom: 8.7, lineTo: 27.7, textX: 35.7,
                    lineWidth: 1.6, cross: false, labels: ['zero-count A', 'zero-count B'], colors: ['#6e6e6e', '#3b7fc0'] } });

    function rocSets(edgeR, limma, poisson, deseq) {
        const line = (pts, i) => ({
            data: toXY(pts), showLine: true, borderColor: methodColors[i], borderWidth: 3,
            pointRadius: 0, tension: 0, fill: false
        });
        // first dataset is drawn on top
        return [line(deseq, 3), line(limma, 1), line(poisson, 2), line(edgeR, 0)];
    }

    makeChart('chartD', rocSets(linearEdgeR, linearLimma, linearPoisson, linearDESeq2), rocScales, row2Pad(77.7, 9.3),
        { letter: 'd', letterPos: [33, 33.3], title: 'linear', xTitle: 'FPR', yTitle: 'TPR',
          xTicks: rocTicks, xLabels: rocLabels, yTicks: rocTicks, yLabels: rocLabels, legend: rocLegend });
    makeChart('chartE', rocSets(logEdgeR, logLimma, logPoisson, logDESeq2), rocScales, row2Pad(73.7, 13.3),
        { letter: 'e', letterPos: [23, 33.3], title: 'log', xTitle: 'FPR', yTitle: 'TPR',
          xTicks: rocTicks, xLabels: rocLabels, yTicks: rocTicks, yLabels: rocLabels, legend: rocLegend });
    makeChart('chartF', rocSets(vsnEdgeR, vsnLimma, vsnPoisson, vsnDESeq2), rocScales, row2Pad(70.3, 20.7),
        { letter: 'f', letterPos: [16, 33.3], title: 'vsn', xTitle: 'FPR', yTitle: 'TPR',
          xTicks: rocTicks, xLabels: rocLabels, yTicks: rocTicks, yLabels: rocLabels, legend: rocLegend });

    // stretch each caption line to the width it has in the printed figure
    document.querySelectorAll('.cap-line').forEach(el => {
        const span = el.firstElementChild;
        const natural = span.getBoundingClientRect().width;
        const n = span.textContent.length;
        span.style.letterSpacing = ((+el.dataset.w - natural) / n) + 'px';
    });
</script>
</body>
</html>
